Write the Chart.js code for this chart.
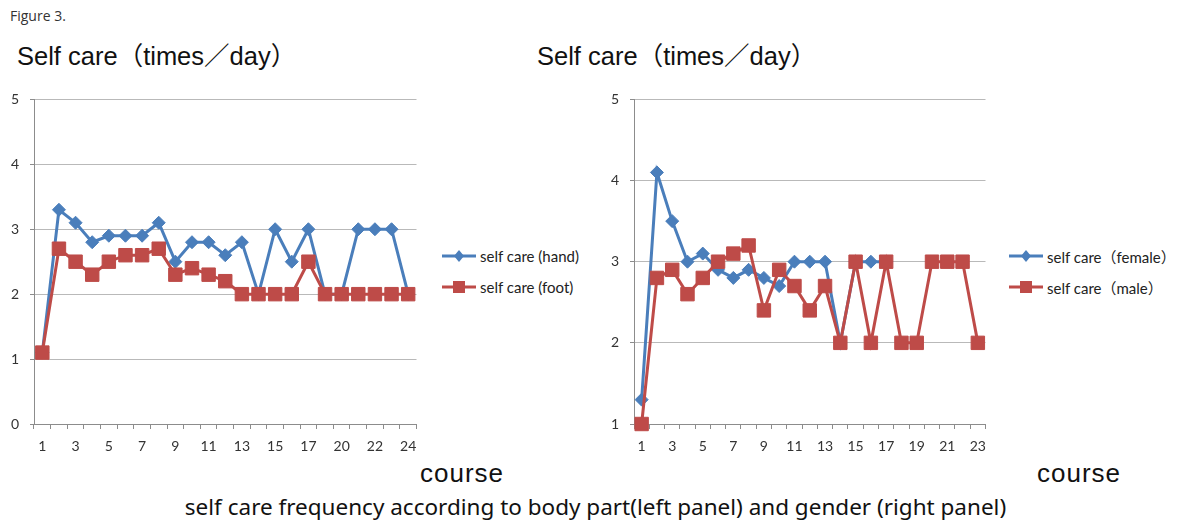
<!DOCTYPE html>
<html><head><meta charset="utf-8">
<script src="https://cdn.jsdelivr.net/npm/chart.js@4/dist/chart.umd.min.js"></script>
<style>
html,body{margin:0;padding:0;background:#fff;}
#page{position:relative;width:1179px;height:524px;overflow:hidden;font-family:"Noto Sans",sans-serif;color:#111;}
.t{position:absolute;white-space:nowrap;line-height:1;}
.jp{font-family:"Liberation Sans","Noto Sans CJK JP",sans-serif;}
canvas{position:absolute;}
.leg{position:absolute;height:20px;display:flex;align-items:center;white-space:nowrap;font-family:Lato,"Noto Sans CJK JP",sans-serif;font-size:15px;color:#222;}
.leg canvas{position:static;margin-right:4px;}
</style></head><body>
<div id="page">
<div class="t" style="left:10px;top:9px;font-family:'Open Sans';font-size:14px;color:#333">Figure 3.</div>
<div class="t jp" style="left:17px;top:44px;font-size:25.5px;">Self care（times／day）</div>
<div class="t jp" style="left:537px;top:44px;font-size:25.5px;">Self care（times／day）</div>
<canvas id="c1" style="left:0;top:80px"></canvas>
<canvas id="c2" style="left:600px;top:80px"></canvas>
<div id="leg1"></div>
<div id="leg2"></div>
<div class="t jp" style="left:420px;top:460px;font-size:26px;letter-spacing:1px">course</div>
<div class="t jp" style="left:1037px;top:460px;font-size:26px;letter-spacing:1px">course</div>
<div class="t" style="left:6px;width:1179px;text-align:center;top:496px;font-size:22.5px">self care frequency according to body part(left panel) and gender (right panel)</div>
</div>
<script>
// ---- data ----
const leftCourses = ['1','2','3','4','5','6','7','8','9','10','11','12','13','14','15','16','17','18','20','21','22','23','24'];
const handValues  = [1.1,3.3,3.1,2.8,2.9,2.9,2.9,3.1,2.5,2.8,2.8,2.6,2.8,2.0,3.0,2.5,3.0,2.0,2.0,3.0,3.0,3.0,2.0];
const footValues  = [1.1,2.7,2.5,2.3,2.5,2.6,2.6,2.7,2.3,2.4,2.3,2.2,2.0,2.0,2.0,2.0,2.5,2.0,2.0,2.0,2.0,2.0,2.0];
const leftSeriesNames = ['self care (hand)','self care (foot)'];
const leftYTicks = [0,1,2,3,4,5];

const rightCourses = ['1','2','3','4','5','6','7','8','9','10','11','12','13','14','15','16','17','18','19','20','21','22','23'];
const femaleValues = [1.3,4.1,3.5,3.0,3.1,2.9,2.8,2.9,2.8,2.7,3.0,3.0,3.0,2.0,3.0,3.0,3.0,null,null,null,null,null,null];
const maleValues   = [1.0,2.8,2.9,2.6,2.8,3.0,3.1,3.2,2.4,2.9,2.7,2.4,2.7,2.0,3.0,2.0,3.0,2.0,2.0,3.0,3.0,3.0,2.0];
const rightSeriesNames = ['self care（female）','self care（male）'];
const rightYTicks = [1,2,3,4,5];

// ---- style ----
const BLUE = '#4A7EBB';
const RED  = '#BE4B48';
const TICK_FONT = {family:'Lato', size:14};

function makeSwatch(color, style){
  const c = document.createElement('canvas'); c.width = 34; c.height = 16;
  c.style.width = '34px'; c.style.height = '16px';
  const g = c.getContext('2d');
  g.strokeStyle = color; g.lineWidth = 3;
  g.beginPath(); g.moveTo(0,8); g.lineTo(34,8); g.stroke();
  g.fillStyle = color;
  const cx = 17, cy = 8;
  if (style === 'rectRot') {
    g.beginPath(); g.moveTo(cx-5,cy); g.lineTo(cx,cy-6); g.lineTo(cx+5,cy); g.lineTo(cx,cy+6); g.closePath(); g.fill();
  } else {
    g.fillRect(cx-6, cy-6, 12, 12);
  }
  return c;
}

function buildLegend(id, names, left, tops){
  const host = document.getElementById(id);
  const styles = [[BLUE,'rectRot'],[RED,'rect']];
  names.forEach((n,i) => {
    const row = document.createElement('div');
    row.className = 'leg';
    row.style.left = left + 'px';
    row.style.top = (tops[i] - 10) + 'px';
    row.appendChild(makeSwatch(styles[i][0], styles[i][1]));
    const sp = document.createElement('span'); sp.textContent = n;
    row.appendChild(sp);
    host.appendChild(row);
  });
}

function build(id, labels, names, blueVals, redVals, yTicks, width){
  const cv = document.getElementById(id);
  cv.width = width; cv.height = 374;
  cv.style.width = width + 'px'; cv.style.height = '374px';
  new Chart(cv, {
    type: 'line',
    data: {
      labels: labels,
      datasets: [
        {label: names[0], data: blueVals, borderColor: BLUE, backgroundColor: BLUE, borderWidth: 3,
         pointStyle: 'rectRot', pointRadius: 6.5, pointBorderWidth: 1, pointBorderColor: BLUE, pointBackgroundColor: BLUE,
         tension: 0, order: 1, clip: false, spanGaps: false},
        {label: names[1], data: redVals, borderColor: RED, backgroundColor: RED, borderWidth: 3,
         pointStyle: 'rect', pointRadius: 9.5, pointBorderWidth: 1, pointBorderColor: RED, pointBackgroundColor: RED,
         tension: 0, order: 0, clip: false}
      ]
    },
    options: {
      responsive: false, animation: false,
      layout: {padding: {top: 16, left: 0, right: 1, bottom: 0}},
      plugins: { tooltip: {enabled: false}, legend: {display: false} },
      scales: {
        x: {
          offset: true,
          grid: {offset: true, drawOnChartArea: false, drawTicks: true, tickLength: 5, color: '#8c8c8c'},
          border: {color: '#8c8c8c'},
          ticks: {autoSkip: false, maxRotation: 0, minRotation: 0, padding: 9, color: '#333', font: TICK_FONT,
            callback(v, i){ return i % 2 === 0 ? this.getLabelForValue(v) : ''; }},
          afterFit(s){ s.height = 30; s.paddingLeft = 0; s.paddingRight = 0; }
        },
        y: {
          min: yTicks[0], max: yTicks[yTicks.length-1],
          grid: {color: '#b9b9b9', tickColor: '#8c8c8c', tickLength: 4},
          border: {color: '#8c8c8c'},
          ticks: {stepSize: 1, padding: 11, color: '#333', font: TICK_FONT},
          afterFit(s){ s.width = 34; }
        }
      }
    }
  });
}

build('c1', leftCourses, leftSeriesNames, handValues, footValues, leftYTicks, 427);
build('c2', rightCourses, rightSeriesNames, femaleValues, maleValues, rightYTicks, 396);
buildLegend('leg1', leftSeriesNames, 442, [256, 287]);
buildLegend('leg2', rightSeriesNames, 1009, [256, 287]);
</script>
</body></html>
